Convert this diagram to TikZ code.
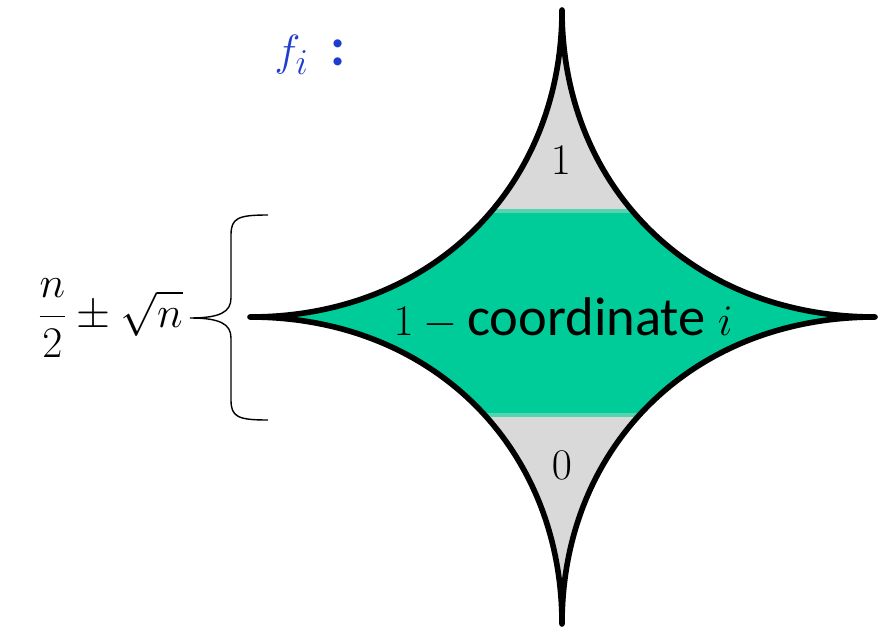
\documentclass[tikz,border=0pt]{standalone}
\usepackage{fontspec}
\newfontfamily\calibri{Carlito}
\definecolor{band}{RGB}{0,204,153}
\definecolor{bandedge}{RGB}{85,212,178}
\definecolor{capgray}{RGB}{217,217,217}
\definecolor{fblue}{RGB}{30,60,205}
% the four-pointed star, in pixel units
\def\starpath{(562,10) .. controls (562,188) and (431,317) .. (250,317)
  .. controls (431,317) and (562,446) .. (562,624)
  .. controls (562,446) and (693,317) .. (875,317)
  .. controls (693,317) and (562,188) .. (562,10) -- cycle}
\begin{document}
\begin{tikzpicture}[x=0.02cm, y=-0.02cm,
  lbl/.style={font=\fontsize{31}{37}\selectfont, inner sep=0pt},
  outline/.style={line width=3.2pt, line cap=round, line join=round}]
\useasboundingbox (0,0) rectangle (880,632);

\begin{scope}
\clip \starpath;
\fill[capgray] (240,0) rectangle (885,632);
\fill[band] (240,211) rectangle (885,415);
\fill[bandedge] (240,209) rectangle (885,213);
\fill[bandedge] (240,413) rectangle (885,417);
\end{scope}
\draw[outline] \starpath;

\node[lbl] (one) at (561,160) {$1$};
\node[lbl] (zero) at (562,465) {$0$};
\node[lbl] (coord) at (563,318) {$1-{}$\calibri coordinate $i$};

% brace
\coordinate (tip) at (190,318);
\draw[line width=0.8pt] (268,215) .. controls (238,215) and (231,218) .. (231,235) -- (231,298)
  .. controls (231,312) and (220,318) .. (tip)
  .. controls (220,318) and (231,324) .. (231,338) -- (231,400)
  .. controls (231,417) and (238,420) .. (268,420);
\node[lbl, font=\fontsize{30}{36}\selectfont, anchor=east, inner sep=4pt] (range) at (tip) {$\displaystyle\frac{n}{2}\pm\sqrt{n}$};

\node[lbl, text=fblue] (fi) at (310,55) {$f_i$\hspace{0.4em}{\calibri\bfseries :}};
\end{tikzpicture}
\end{document}
